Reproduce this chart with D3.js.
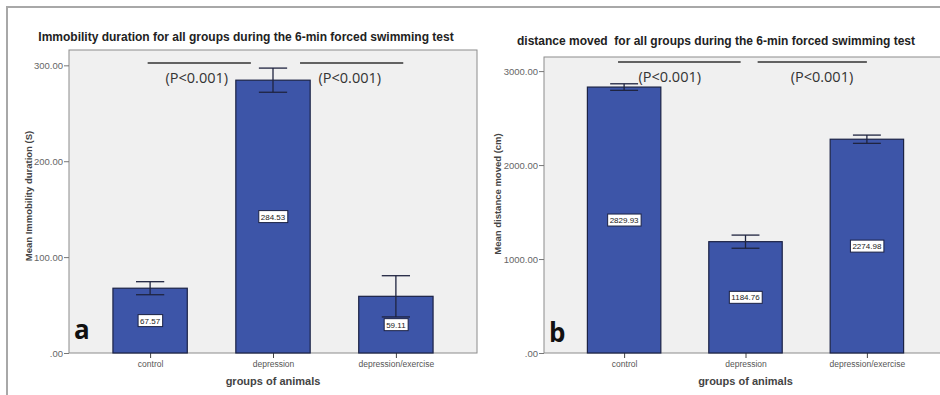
<!DOCTYPE html>
<html><head><meta charset="utf-8">
<script src="https://cdn.jsdelivr.net/npm/d3@7"></script>
<style>
html,body{margin:0;padding:0;background:#fff;}
svg{display:block;font-family:"Liberation Sans",Arial,sans-serif;}
</style></head>
<body>
<svg id="chart" width="940" height="395"></svg>
<script>
// ---- data ----
const categories = ["control", "depression", "depression/exercise"];
const immobilityMeans = [67.57, 284.53, 59.11];
const immobilityErrors = [6.8, 12.6, 21.5];
const distanceMeans = [2829.93, 1184.76, 2274.98];
const distanceErrors = [35, 70, 44];
const immobilityTicks = [0, 100, 200, 300];
const distanceTicks = [0, 1000, 2000, 3000];
const pLabels = ["(P<0.001)", "(P<0.001)"];
const titles = ["Immobility duration for all groups during the 6-min forced swimming test",
                "distance moved  for all groups during the 6-min forced swimming test"];
const yTitles = ["Mean Immobility duration (S)", "Mean distance moved (cm)"];
const xTitle = "groups of animals";
const panelLetters = ["a", "b"];

const svg = d3.select("#chart");
const fmt = v => { const s = d3.format(".2f")(v); return s.startsWith("0.") ? s.slice(1) : s; };

// outer frame
svg.append("line").attr("x1", 6).attr("x2", 940).attr("y1", 7).attr("y2", 7)
  .attr("stroke", "#a8a8a8").attr("stroke-width", 2);
svg.append("line").attr("x1", 7).attr("x2", 7).attr("y1", 6).attr("y2", 395)
  .attr("stroke", "#a8a8a8").attr("stroke-width", 2);

const panels = [
  { left: 69, right: 477, top: 50, bottom: 353, ymax: 316, means: immobilityMeans, errs: immobilityErrors,
    ticks: immobilityTicks, title: titles[0], titleX: 246, titleY: 41, yTitle: yTitles[0], yTitleX: 32, yTitleY: 196,
    letter: panelLetters[0], letterBase: 339,
    brackets: [[-0.02, 0.82], [1.22, 2.06]], texts: [0.38, 1.625], lineVal: 302.4, textVal: 282 },
  { left: 544, right: 947, top: 57, bottom: 353, ymax: 3150, means: distanceMeans, errs: distanceErrors,
    ticks: distanceTicks, title: titles[1], titleX: 716, titleY: 45, yTitle: yTitles[1], yTitleX: 501, yTitleY: 194,
    letter: panelLetters[1], letterBase: 342,
    brackets: [[-0.05, 0.96], [1.10, 2.0]], texts: [0.376, 1.63], lineVal: 3096, textVal: 2880 }
];

const barFill = "#3d55a8", barStroke = "#1b2245", errColor = "#1f2440";

panels.forEach(p => {
  const g = svg.append("g");
  const x = d3.scalePoint().domain(categories).range([p.left, p.right]).padding(0.66);
  const y = d3.scaleLinear().domain([0, p.ymax]).range([p.bottom, p.top]);
  const step = x.step();
  const bw = step * 0.605;
  const pos = f => x(categories[0]) + f * step;

  // plot background
  g.append("rect").attr("x", p.left).attr("y", p.top).attr("width", p.right - p.left).attr("height", p.bottom - p.top)
    .attr("fill", "#f0f0f0").attr("stroke", "#8c8c8c").attr("stroke-width", 1);

  // title
  g.append("text").attr("x", p.titleX).attr("y", p.titleY).attr("text-anchor", "middle")
    .style("white-space", "pre")
    .attr("font-size", 12).attr("font-weight", "bold").attr("fill", "#222").text(p.title);

  // y axis
  const yAxis = d3.axisLeft(y).tickValues(p.ticks).tickFormat(fmt).tickSize(5).tickPadding(1);
  const ya = g.append("g").attr("transform", `translate(${p.left},0)`).call(yAxis);
  ya.select(".domain").remove();
  ya.selectAll(".tick line").attr("stroke", "#777");
  ya.selectAll(".tick text").attr("font-size", 9.5).attr("fill", "#666")
    .attr("font-family", "'Liberation Sans Narrow','Liberation Sans',Arial,sans-serif");

  // x axis
  const xAxis = d3.axisBottom(x).tickSize(5).tickPadding(3);
  const xa = g.append("g").attr("transform", `translate(0,${p.bottom})`).call(xAxis);
  xa.select(".domain").remove();
  xa.selectAll(".tick line").attr("stroke", "#444");
  xa.selectAll(".tick text").attr("font-size", 8.5).attr("fill", "#555");

  // axis titles
  g.append("text").attr("transform", `translate(${p.yTitleX},${p.yTitleY}) rotate(-90)`)
    .attr("text-anchor", "middle").attr("font-size", 9.5).attr("font-weight", "bold").attr("fill", "#444").text(p.yTitle);
  g.append("text").attr("x", (x(categories[0]) + x(categories[2])) / 2).attr("y", 385).attr("text-anchor", "middle")
    .attr("font-size", 11).attr("font-weight", "bold").attr("fill", "#444").text(xTitle);

  // bars
  g.selectAll(".bar").data(p.means).join("rect")
    .attr("x", (d, i) => x(categories[i]) - bw / 2).attr("y", d => y(d))
    .attr("width", bw).attr("height", d => y(0) - y(d))
    .attr("fill", barFill).attr("stroke", barStroke).attr("stroke-width", 1.2);

  // error bars
  const cw = step * 0.115;
  p.means.forEach((m, i) => {
    const cx = x(categories[i]);
    const e = p.errs[i];
    g.append("line").attr("x1", cx).attr("x2", cx).attr("y1", y(m + e)).attr("y2", y(m - e))
      .attr("stroke", errColor).attr("stroke-width", 1.3);
    [m + e, m - e].forEach(v => {
      g.append("line").attr("x1", cx - cw).attr("x2", cx + cw).attr("y1", y(v)).attr("y2", y(v))
        .attr("stroke", errColor).attr("stroke-width", 1.3);
    });
  });

  // value labels
  p.means.forEach((m, i) => {
    const cx = x(categories[i]);
    const cy = (y(m) + y(0)) / 2;
    const t = g.append("text").attr("x", cx).attr("y", cy + 3).attr("text-anchor", "middle")
      .attr("font-size", 8).attr("fill", "#222").text(fmt(m));
    const bb = t.node().getBBox();
    g.insert("rect", () => t.node()).attr("x", bb.x - 2).attr("y", cy - 6).attr("width", bb.width + 4).attr("height", 12)
      .attr("fill", "#fff").attr("stroke", "#1b2245").attr("stroke-width", 1);
  });

  // significance brackets
  p.brackets.forEach(([a, b]) => {
    g.append("line").attr("x1", pos(a)).attr("x2", pos(b)).attr("y1", y(p.lineVal)).attr("y2", y(p.lineVal))
      .attr("stroke", "#333").attr("stroke-width", 1.5);
  });
  p.texts.forEach((f, i) => {
    g.append("text").attr("x", pos(f)).attr("y", y(p.textVal)).attr("text-anchor", "middle")
      .attr("font-size", 14.5).attr("fill", "#333").attr("font-family", "'Open Sans','Liberation Sans',sans-serif")
      .text(pLabels[i]);
  });

  // panel letter
  g.append("text").attr("x", p.left + 5).attr("y", p.letterBase).attr("font-size", 26).attr("font-weight", "bold")
    .attr("fill", "#111").attr("font-family", "'Open Sans','Liberation Sans',sans-serif").text(p.letter);
});
</script>
</body></html>
